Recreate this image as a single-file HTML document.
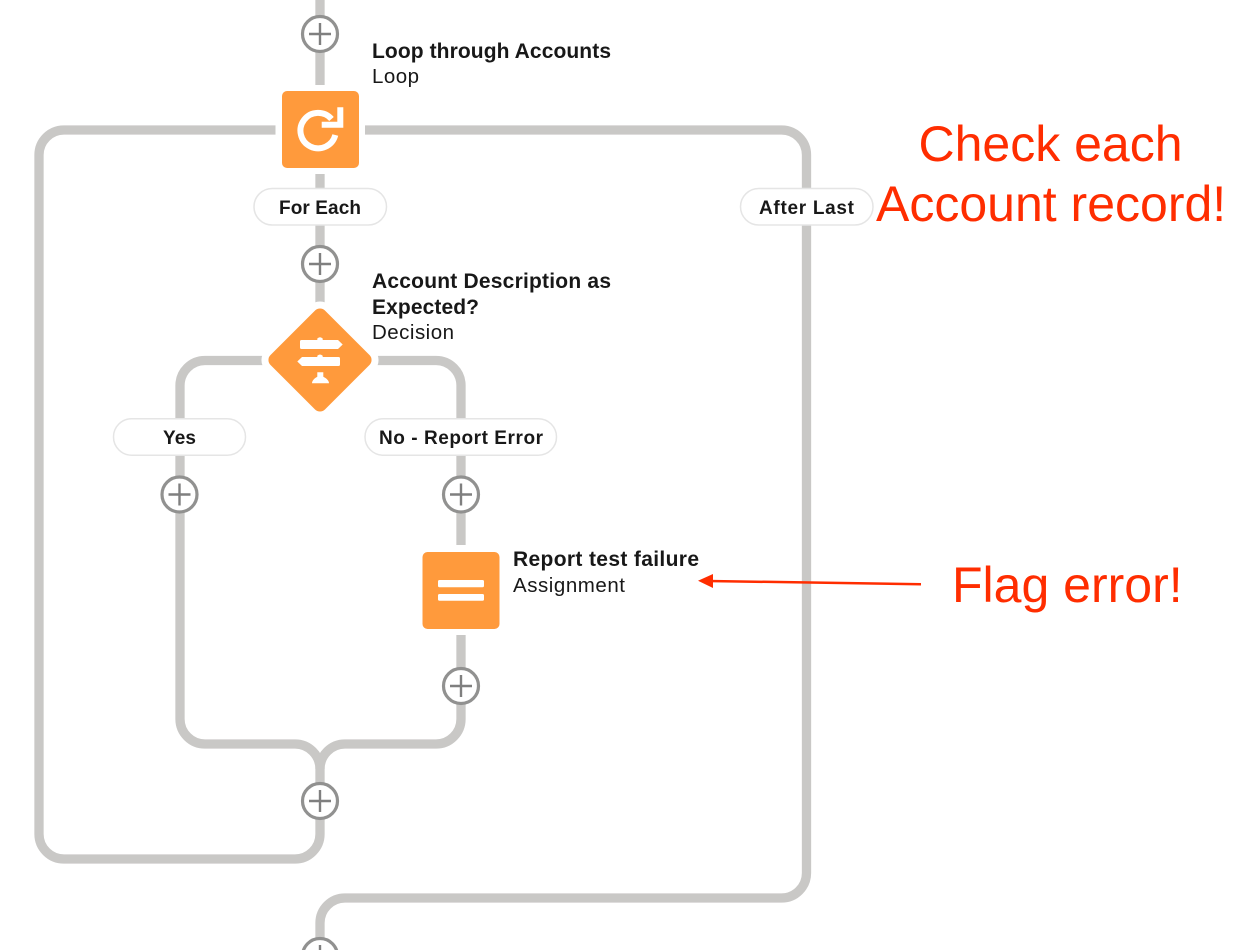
<!DOCTYPE html>
<html><head><meta charset="utf-8"><style>
html,body{margin:0;padding:0;background:#fff}
svg{display:block}
text{font-family:"Liberation Sans",sans-serif;fill:#181818;font-size:20.5px}
.b{font-weight:bold;font-size:21px}
.m{font-weight:bold;font-size:19px}
.r{fill:#ff2d00;font-size:50px}
.rail{fill:none;stroke:#c9c8c6;stroke-width:9.3}
.pill{fill:#fff;stroke:#e5e5e5;stroke-width:1.5}
.ring{fill:#fff;stroke:#919190;stroke-width:3.2}
.plus{stroke:#7f7f7f;stroke-width:2.4;fill:none}
</style></head><body>
<svg xmlns="http://www.w3.org/2000/svg" width="1248" height="950" viewBox="0 0 1248 950">
<rect width="1248" height="950" fill="#fff"/>
<path class="rail" d="M320 0V85"/>
<path class="rail" d="M320 174V340"/>
<path class="rail" d="M275.5 130H64A25 25 0 0 0 39 155V834A25 25 0 0 0 64 859H295A25 25 0 0 0 320 834V769"/>
<path class="rail" d="M365 130H781.5A25 25 0 0 1 806.5 155V873A25 25 0 0 1 781.5 898H345A25 25 0 0 0 320 923V950"/>
<path class="rail" d="M320 360.500H205A25 25 0 0 0 180 385.500V719A25 25 0 0 0 205 744H295A25 25 0 0 1 320 769"/>
<path class="rail" d="M320 360.500H436A25 25 0 0 1 461 385.500V545"/>
<path class="rail" d="M461 635V719A25 25 0 0 1 436 744H345A25 25 0 0 0 320 769"/>

<rect x="282" y="91" width="77" height="77" rx="5" fill="#ff9a3c"/>
<path d="M331.500 119A17.700 17.700 0 1 0 335.300 135" fill="none" stroke="#fff" stroke-width="6"/>
<path d="M337.300 107.300H343.300V127.700H321.700V121.700H337.300Z" fill="#fff"/>

<rect x="281.500" y="321.500" width="77" height="77" rx="7" transform="rotate(45 320 360)" fill="#ff9a3c" stroke="#fff" stroke-width="14" paint-order="stroke"/>
<path d="M301.500 340H317.300V338.500Q320 336 322.700 338.500V340H338L342.700 344.500L338 349H301.500Q300 349 300 347.500V341.500Q300 340 301.500 340Z" fill="#fff"/>
<path d="M302 357H317.300V355.800Q320 353.300 322.700 355.800V357H338.500Q340 357 340 358.500V364.500Q340 366 338.500 366H302L297.300 361.500Z" fill="#fff"/>
<path d="M317.300 372.300H323.300V376.700Q329 379.500 329 383.300H312Q312 379.500 317.300 376.700Z" fill="#fff"/>

<rect x="422.500" y="552" width="77" height="77" rx="5" fill="#ff9a3c"/>
<rect x="438" y="580" width="46" height="7.300" rx="1.500" fill="#fff"/>
<rect x="438" y="594" width="46" height="6.800" rx="1.500" fill="#fff"/>

<rect class="pill" x="254" y="188.500" width="132.500" height="36.500" rx="18.200"/>
<rect class="pill" x="113.500" y="418.700" width="132" height="36.500" rx="18.200"/>
<rect class="pill" x="365" y="418.700" width="191.500" height="36.500" rx="18.200"/>
<rect class="pill" x="740.500" y="188.500" width="132.500" height="36.500" rx="18.200"/>

<g>
<circle class="ring" cx="320" cy="34" r="17.500"/><path class="plus" d="M309 34H331M320 23V45"/>
<circle class="ring" cx="320" cy="264" r="17.500"/><path class="plus" d="M309 264H331M320 253V275"/>
<circle class="ring" cx="179.500" cy="494.500" r="17.500"/><path class="plus" d="M168.500 494.500H190.500M179.500 483.500V505.500"/>
<circle class="ring" cx="461" cy="494.500" r="17.500"/><path class="plus" d="M450 494.500H472M461 483.500V505.500"/>
<circle class="ring" cx="461" cy="686" r="17.500"/><path class="plus" d="M450 686H472M461 675V697"/>
<circle class="ring" cx="320" cy="801" r="17.500"/><path class="plus" d="M309 801H331M320 790V812"/>
<circle class="ring" cx="320" cy="956" r="17.500"/><path class="plus" d="M309 956H331M320 945V967"/>
</g>

<text class="b" x="372" y="58" textLength="239" lengthAdjust="spacing">Loop through Accounts</text>
<text x="372" y="83" textLength="47" lengthAdjust="spacing">Loop</text>
<text class="m" x="279" y="214" textLength="82" lengthAdjust="spacing">For Each</text>
<text class="m" x="759" y="214" textLength="95" lengthAdjust="spacing">After Last</text>
<text class="b" x="372" y="288" textLength="239" lengthAdjust="spacing">Account Description as</text>
<text class="b" x="372" y="314" textLength="107" lengthAdjust="spacing">Expected?</text>
<text x="372" y="339" textLength="82" lengthAdjust="spacing">Decision</text>
<text class="m" x="163" y="444" textLength="33" lengthAdjust="spacing">Yes</text>
<text class="m" x="379" y="444" textLength="164" lengthAdjust="spacing">No - Report Error</text>
<text class="b" x="513" y="566" textLength="186" lengthAdjust="spacing">Report test failure</text>
<text x="513" y="592" textLength="112" lengthAdjust="spacing">Assignment</text>

<text class="r" x="918.500" y="161">Check each</text>
<text class="r" x="876" y="221">Account record!</text>
<text class="r" x="952" y="602">Flag error!</text>
<path d="M921 584.200L708 581" fill="none" stroke="#ff2d00" stroke-width="2.500"/>
<path d="M698 580.700L713 574V588Z" fill="#ff2d00"/>
</svg>
</body></html>
